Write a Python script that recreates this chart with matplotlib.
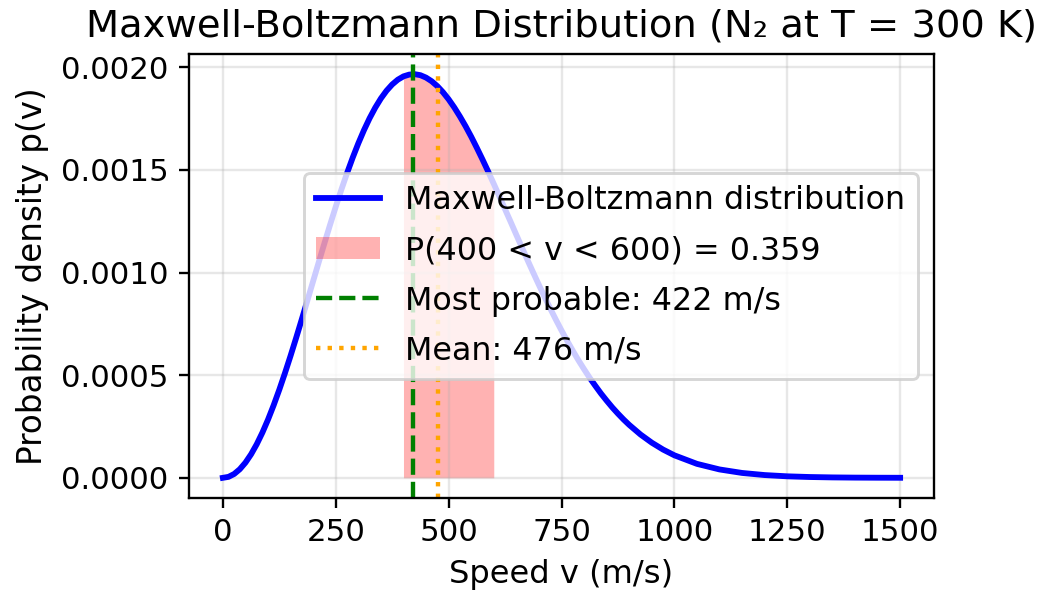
import numpy as np
import matplotlib
matplotlib.use("Agg")
import matplotlib.pyplot as plt
from matplotlib.ticker import FormatStrFormatter

# molecular speed (m/s) and probability density p(v) for N2 at 300 K
speed = [0, 12.5, 25, 37.5, 50, 62.5, 75, 87.5, 100, 112.5, 125, 137.5, 150,
         162.5, 175, 187.5, 200, 212.5, 225, 237.5, 250, 262.5, 275, 287.5,
         300, 312.5, 325, 337.5, 350, 362.5, 375, 387.5, 400, 412.5, 425,
         437.5, 450, 462.5, 475, 487.5, 500, 512.5, 525, 537.5, 550, 562.5,
         575, 587.5, 600, 612.5, 625, 637.5, 650, 662.5, 675, 687.5, 700,
         712.5, 725, 737.5, 750, 762.5, 775, 787.5, 800, 812.5, 825, 837.5,
         850, 862.5, 875, 887.5, 900, 925, 950, 975, 1000, 1050, 1100, 1150,
         1200, 1250, 1300, 1350, 1400, 1450, 1500]
density = [0.0, 4.68e-6, 1.869e-5, 4.187e-5, 7.398e-5, 1.1468e-4, 1.6355e-4,
           2.2009e-4, 2.837e-4, 3.5375e-4, 4.295e-4, 5.1022e-4, 5.951e-4,
           6.8326e-4, 7.739e-4, 8.6607e-4, 9.590e-4, 1.0517e-3, 1.1434e-3,
           1.2333e-3, 1.3207e-3, 1.4045e-3, 1.4844e-3, 1.5597e-3, 1.6297e-3,
           1.6939e-3, 1.7521e-3, 1.8036e-3, 1.8484e-3, 1.8861e-3, 1.9166e-3,
           1.9399e-3, 1.9560e-3, 1.9646e-3, 1.9667e-3, 1.9618e-3, 1.9500e-3,
           1.9322e-3, 1.9085e-3, 1.8788e-3, 1.8443e-3, 1.8047e-3, 1.7607e-3,
           1.7133e-3, 1.6622e-3, 1.6077e-3, 1.5512e-3, 1.4928e-3, 1.4323e-3,
           1.3708e-3, 1.3085e-3, 1.2465e-3, 1.1837e-3, 1.1214e-3, 1.0598e-3,
           9.992e-4, 9.397e-4, 8.816e-4, 8.254e-4, 7.708e-4, 7.182e-4,
           6.677e-4, 6.193e-4, 5.728e-4, 5.291e-4, 4.870e-4, 4.481e-4,
           4.105e-4, 3.760e-4, 3.430e-4, 3.127e-4, 2.842e-4, 2.579e-4,
           2.110e-4, 1.712e-4, 1.376e-4, 1.097e-4, 6.80e-5, 4.08e-5, 2.37e-5,
           1.34e-5, 7.3e-6, 3.9e-6, 2.0e-6, 1.0e-6, 5e-7, 2e-7]

v_low, v_high = 400, 600
prob_range = 0.359
v_most_probable = 422
v_mean = 476

x_ticks = [0, 250, 500, 750, 1000, 1250, 1500]
y_ticks = [0.0, 0.0005, 0.0010, 0.0015, 0.0020]

speed = np.array(speed)
density = np.array(density)

DPI = 210
fig = plt.figure(figsize=(1040 / DPI, 597 / DPI), dpi=DPI)
ax = fig.add_axes([189 / 1040, 99 / 597, 745 / 1040, 444 / 597])

ax.plot(speed, density, color="blue", lw=2, label="Maxwell-Boltzmann distribution")
band = (speed >= v_low) & (speed <= v_high)
ax.fill_between(speed[band], density[band], color="red", alpha=0.3, lw=0,
                label=f"P({v_low} < v < {v_high}) = {prob_range:.3f}")
ax.axvline(v_most_probable, color="green", ls="--", lw=1.5,
           label=f"Most probable: {v_most_probable} m/s")
ax.axvline(v_mean, color="orange", ls=":", lw=1.5,
           label=f"Mean: {v_mean} m/s")

ax.set_xticks(x_ticks)
ax.set_yticks(y_ticks)
ax.yaxis.set_major_formatter(FormatStrFormatter("%.4f"))
ax.tick_params(labelsize=10.6)
ax.grid(True, alpha=0.3)
ax.set_xlabel("Speed v (m/s)", fontsize=11)
ax.set_ylabel("Probability density p(v)", fontsize=11.2)
ax.set_title("Maxwell-Boltzmann Distribution (N\u2082 at T = 300 K)", fontsize=13.2)
ax.legend(loc="center right", fontsize=10.9, labelspacing=0.6)

fig.savefig("out.png", dpi=DPI)
